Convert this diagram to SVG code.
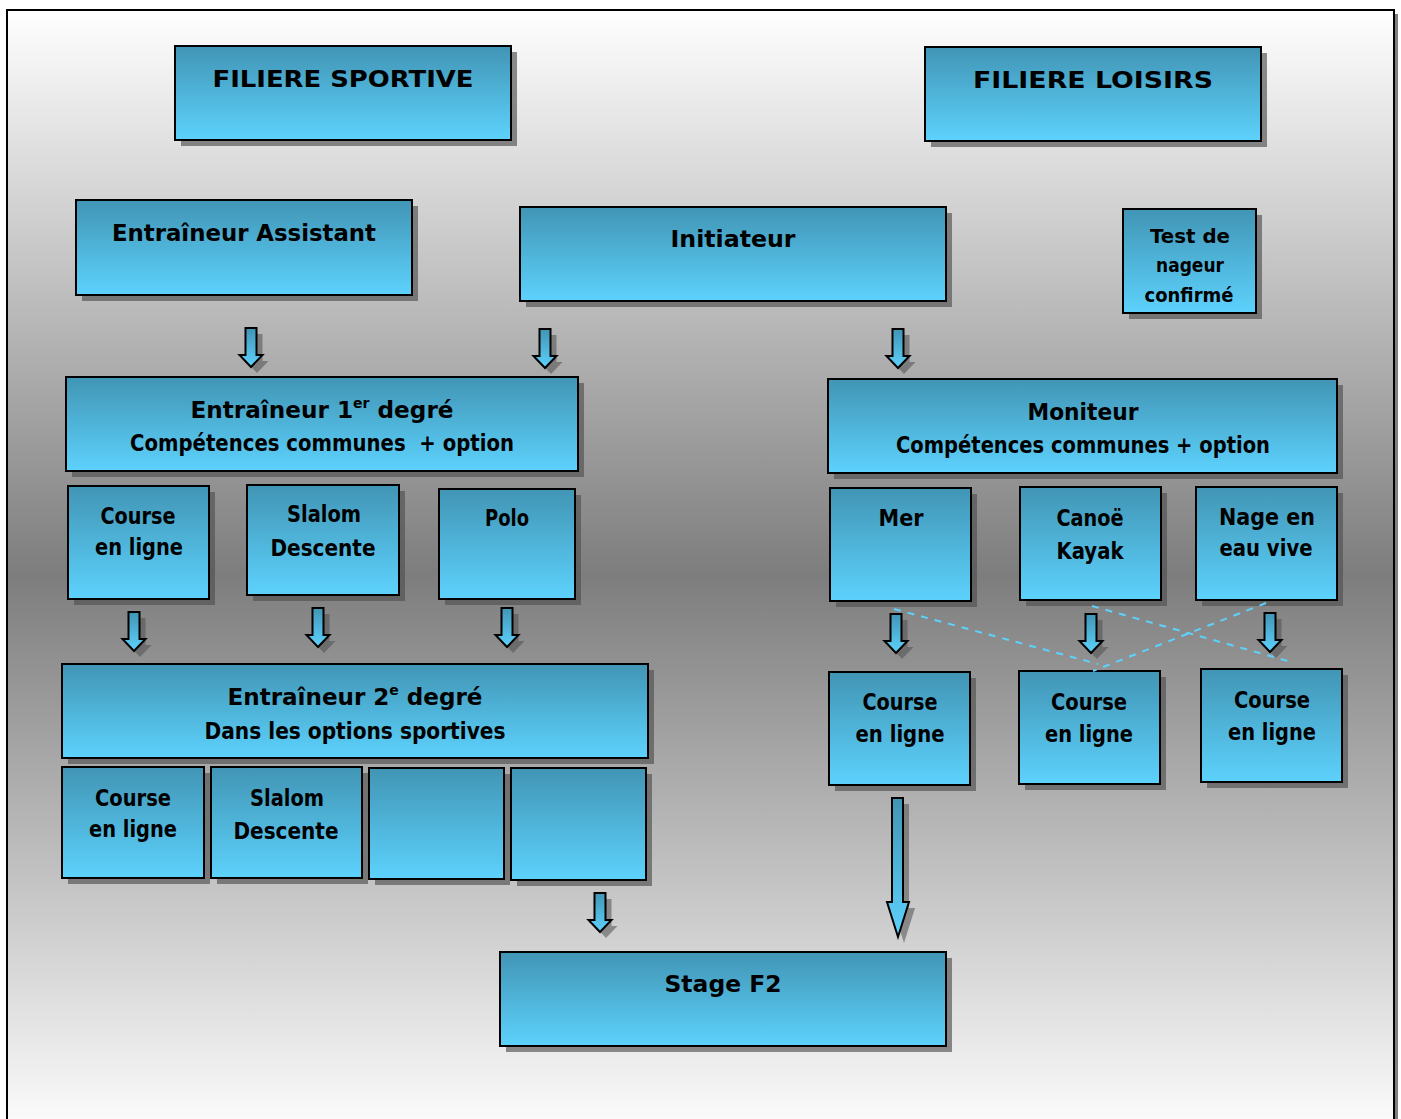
<svg xmlns="http://www.w3.org/2000/svg" width="1401" height="1119" viewBox="0 0 1401 1119">
<defs>
<linearGradient id="bg" x1="0" y1="0" x2="0" y2="1">
<stop offset="0" stop-color="#ffffff"/>
<stop offset="0.5" stop-color="#7d7d7d"/>
<stop offset="1" stop-color="#ffffff"/>
</linearGradient>
<linearGradient id="box" x1="0" y1="0" x2="0" y2="1">
<stop offset="0" stop-color="#4195b5"/>
<stop offset="1" stop-color="#5dd2fd"/>
</linearGradient>
<path id="arr" d="M-5.5,0 H5.5 V27 H11.5 L0,39 L-11.5,27 H-5.5 Z"/>
</defs>
<style>
.b{fill:url(#box);stroke:#000;stroke-width:2}
.s{fill:#505050;opacity:0.65}
.t{font-family:"DejaVu Sans","Liberation Sans",sans-serif;font-weight:bold;font-size:23px;fill:#000;text-anchor:middle}
.sm{font-size:19px}
.a{fill:url(#box);stroke:#000;stroke-width:2;stroke-linejoin:miter}
.as{fill:#505050;opacity:0.55}
.d{stroke:#5dd2fd;stroke-width:2;stroke-dasharray:7 7;fill:none}
</style>
<rect x="0" y="0" width="1401" height="1119" fill="#ffffff"/>
<rect x="1394" y="14" width="4" height="1110" fill="#808080"/>
<rect x="7" y="10" width="1387" height="1130" fill="url(#bg)" stroke="#000" stroke-width="2"/>

<g id="filiere-sportive"><rect class="s" x="181" y="52" width="336" height="94"/><rect class="b" x="175" y="46" width="336" height="94"/><text class="t" x="343" y="87" textLength="261" lengthAdjust="spacingAndGlyphs">FILIERE SPORTIVE</text></g>
<g id="filiere-loisirs"><rect class="s" x="931" y="53" width="336" height="94"/><rect class="b" x="925" y="47" width="336" height="94"/><text class="t" x="1093" y="88" textLength="240" lengthAdjust="spacingAndGlyphs">FILIERE LOISIRS</text></g>
<g id="entraineur-assistant"><rect class="s" x="82" y="206" width="336" height="95"/><rect class="b" x="76" y="200" width="336" height="95"/><text class="t" x="244" y="241" textLength="264" lengthAdjust="spacingAndGlyphs">Entraîneur Assistant</text></g>
<g id="initiateur"><rect class="s" x="526" y="213" width="426" height="94"/><rect class="b" x="520" y="207" width="426" height="94"/><text class="t" x="733" y="247" textLength="125" lengthAdjust="spacingAndGlyphs">Initiateur</text></g>
<g id="test-nageur"><rect class="s" x="1129" y="215" width="133" height="104"/><rect class="b" x="1123" y="209" width="133" height="104"/><text class="t sm" x="1190" y="243" textLength="80" lengthAdjust="spacingAndGlyphs">Test de</text><text class="t sm" x="1190" y="272" textLength="68" lengthAdjust="spacingAndGlyphs">nageur</text><text class="t sm" x="1189" y="302" textLength="89" lengthAdjust="spacingAndGlyphs">confirmé</text></g>

<g id="entraineur-1"><rect class="s" x="72" y="383" width="512" height="94"/><rect class="b" x="66" y="377" width="512" height="94"/><text class="t" x="322" y="418" textLength="263" lengthAdjust="spacingAndGlyphs">Entraîneur 1<tspan font-size="14" dy="-10">er</tspan><tspan dy="10"> degré</tspan></text><text class="t" x="322" y="451" textLength="384" lengthAdjust="spacingAndGlyphs">Compétences communes &#160;+ option</text></g>
<g id="moniteur"><rect class="s" x="834" y="385" width="509" height="94"/><rect class="b" x="828" y="379" width="509" height="94"/><text class="t" x="1083" y="420" textLength="111" lengthAdjust="spacingAndGlyphs">Moniteur</text><text class="t" x="1083" y="453" textLength="374" lengthAdjust="spacingAndGlyphs">Compétences communes + option</text></g>

<g id="course-1"><rect class="s" x="74" y="492" width="141" height="113"/><rect class="b" x="68" y="486" width="141" height="113"/><text class="t" x="138" y="524" textLength="75" lengthAdjust="spacingAndGlyphs">Course</text><text class="t" x="139" y="555" textLength="88" lengthAdjust="spacingAndGlyphs">en ligne</text></g>
<g id="slalom-1"><rect class="s" x="253" y="491" width="152" height="110"/><rect class="b" x="247" y="485" width="152" height="110"/><text class="t" x="324" y="522" textLength="74" lengthAdjust="spacingAndGlyphs">Slalom</text><text class="t" x="323" y="556" textLength="105" lengthAdjust="spacingAndGlyphs">Descente</text></g>
<g id="polo"><rect class="s" x="445" y="495" width="136" height="110"/><rect class="b" x="439" y="489" width="136" height="110"/><text class="t" x="507" y="526" textLength="44" lengthAdjust="spacingAndGlyphs">Polo</text></g>
<g id="mer"><rect class="s" x="836" y="494" width="141" height="113"/><rect class="b" x="830" y="488" width="141" height="113"/><text class="t" x="901" y="526" textLength="45" lengthAdjust="spacingAndGlyphs">Mer</text></g>
<g id="canoe-kayak"><rect class="s" x="1026" y="493" width="141" height="113"/><rect class="b" x="1020" y="487" width="141" height="113"/><text class="t" x="1090" y="526" textLength="67" lengthAdjust="spacingAndGlyphs">Canoë</text><text class="t" x="1090" y="559" textLength="67" lengthAdjust="spacingAndGlyphs">Kayak</text></g>
<g id="nage-eau-vive"><rect class="s" x="1202" y="493" width="141" height="113"/><rect class="b" x="1196" y="487" width="141" height="113"/><text class="t" x="1267" y="525" textLength="96" lengthAdjust="spacingAndGlyphs">Nage en</text><text class="t" x="1266" y="556" textLength="93" lengthAdjust="spacingAndGlyphs">eau vive</text></g>

<g id="entraineur-2"><rect class="s" x="68" y="670" width="586" height="94"/><rect class="b" x="62" y="664" width="586" height="94"/><text class="t" x="355" y="705" textLength="255" lengthAdjust="spacingAndGlyphs">Entraîneur 2<tspan font-size="14" dy="-10">e</tspan><tspan dy="10"> degré</tspan></text><text class="t" x="355" y="739" textLength="301" lengthAdjust="spacingAndGlyphs">Dans les options sportives</text></g>
<g id="course-2"><rect class="s" x="68" y="773" width="142" height="111"/><rect class="b" x="62" y="767" width="142" height="111"/><text class="t" x="133" y="806" textLength="76" lengthAdjust="spacingAndGlyphs">Course</text><text class="t" x="133" y="837" textLength="88" lengthAdjust="spacingAndGlyphs">en ligne</text></g>
<g id="slalom-2"><rect class="s" x="217" y="773" width="151" height="111"/><rect class="b" x="211" y="767" width="151" height="111"/><text class="t" x="287" y="806" textLength="74" lengthAdjust="spacingAndGlyphs">Slalom</text><text class="t" x="286" y="839" textLength="105" lengthAdjust="spacingAndGlyphs">Descente</text></g>
<g id="empty-1"><rect class="s" x="375" y="774" width="135" height="111"/><rect class="b" x="369" y="768" width="135" height="111"/></g>
<g id="empty-2"><rect class="s" x="517" y="774" width="135" height="112"/><rect class="b" x="511" y="768" width="135" height="112"/></g>

<g id="course-mer"><rect class="s" x="835" y="678" width="141" height="113"/><rect class="b" x="829" y="672" width="141" height="113"/><text class="t" x="900" y="710" textLength="75" lengthAdjust="spacingAndGlyphs">Course</text><text class="t" x="900" y="742" textLength="89" lengthAdjust="spacingAndGlyphs">en ligne</text></g>
<g id="course-canoe"><rect class="s" x="1025" y="677" width="141" height="113"/><rect class="b" x="1019" y="671" width="141" height="113"/><text class="t" x="1089" y="710" textLength="76" lengthAdjust="spacingAndGlyphs">Course</text><text class="t" x="1089" y="742" textLength="88" lengthAdjust="spacingAndGlyphs">en ligne</text></g>
<g id="course-nage"><rect class="s" x="1207" y="675" width="141" height="113"/><rect class="b" x="1201" y="669" width="141" height="113"/><text class="t" x="1272" y="708" textLength="76" lengthAdjust="spacingAndGlyphs">Course</text><text class="t" x="1272" y="740" textLength="88" lengthAdjust="spacingAndGlyphs">en ligne</text></g>

<g id="stage-f2"><rect class="s" x="506" y="958" width="446" height="94"/><rect class="b" x="500" y="952" width="446" height="94"/><text class="t" x="723" y="992" textLength="117" lengthAdjust="spacingAndGlyphs">Stage F2</text></g>

<g id="connectors">
<use href="#arr" class="as" x="257" y="334"/><use href="#arr" class="a" x="251" y="328"/>
<use href="#arr" class="as" x="551" y="335"/><use href="#arr" class="a" x="545" y="329"/>
<use href="#arr" class="as" x="904" y="335"/><use href="#arr" class="a" x="898" y="329"/>
<use href="#arr" class="as" x="140" y="618"/><use href="#arr" class="a" x="134" y="612"/>
<use href="#arr" class="as" x="324" y="614"/><use href="#arr" class="a" x="318" y="608"/>
<use href="#arr" class="as" x="513" y="614"/><use href="#arr" class="a" x="507" y="608"/>
<use href="#arr" class="as" x="902" y="620"/><use href="#arr" class="a" x="896" y="614"/>
<use href="#arr" class="as" x="1097" y="620"/><use href="#arr" class="a" x="1091" y="614"/>
<use href="#arr" class="as" x="1276" y="619"/><use href="#arr" class="a" x="1270" y="613"/>
<use href="#arr" class="as" x="606" y="899"/><use href="#arr" class="a" x="600" y="893"/>
<path class="as" d="M898,804 H909 V908 H915 L904,943 L893,908 H898 Z"/>
<path class="a" d="M892,798 H903 V902 H909 L898,937 L887,902 H892 Z"/>
<line class="d" x1="894" y1="609" x2="1098" y2="664"/>
<line class="d" x1="1092" y1="606" x2="1288" y2="661"/>
<line class="d" x1="1266" y1="603" x2="1093" y2="671"/>
</g>
</svg>
